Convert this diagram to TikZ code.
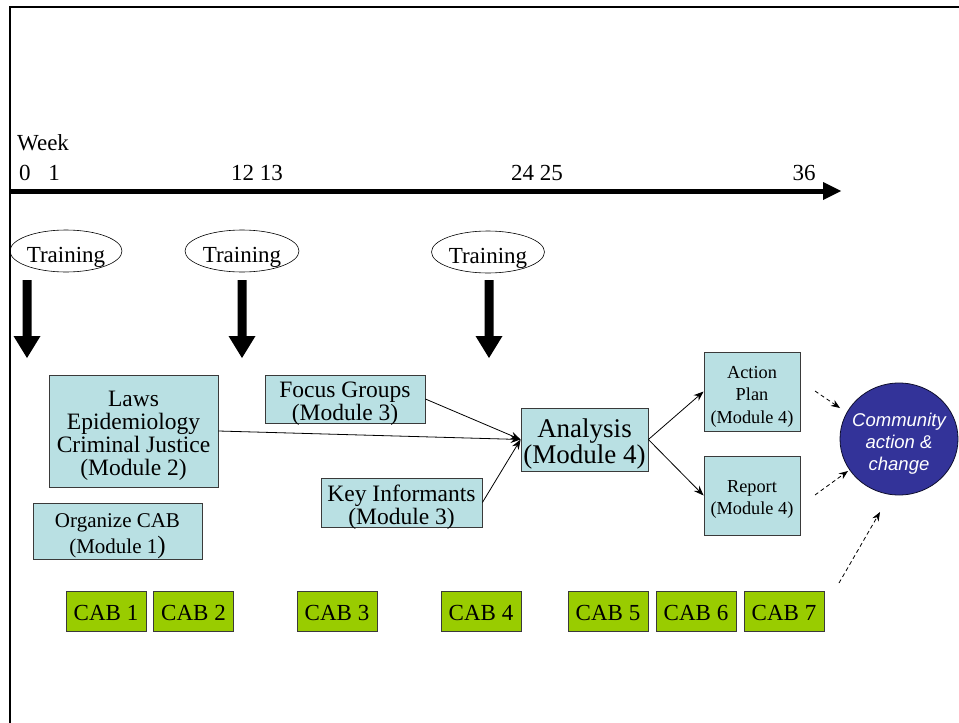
\documentclass[tikz,border=0pt]{standalone}
\usepackage{fontspec}
\setmainfont{Liberation Serif}
\setsansfont{Liberation Sans}
\usetikzlibrary{shapes.geometric,arrows.meta}
\definecolor{boxfill}{HTML}{B9E0E3}
\definecolor{boxline}{HTML}{3A3A3A}
\definecolor{cabgreen}{HTML}{99CC00}
\definecolor{commblue}{HTML}{333399}
\newcommand{\fs}[2]{\fontsize{#1}{#2}\selectfont}
\begin{document}
\begin{tikzpicture}[x=1pt,y=-1pt,
  modbox/.style={draw=boxline,fill=boxfill,line width=0.8pt,inner sep=0pt,anchor=center},
  boxtxt/.style={inner sep=0pt,align=center,anchor=center},
  cabbox/.style={draw=boxline,fill=cabgreen,line width=0.8pt,inner sep=0pt,minimum width=80pt,minimum height=40pt},
  trainell/.style={ellipse,draw,line width=0.6pt,inner sep=0pt,minimum width=112pt,minimum height=42pt},
  lbl/.style={inner sep=0pt,anchor=base,font=\fs{23}{23}},
  flow/.style={-{Stealth[length=10pt,width=7.5pt]},line width=0.8pt},
  dflow/.style={-{Stealth[length=9pt,width=7pt]},line width=0.8pt,dash pattern=on 4pt off 3pt}
]
\useasboundingbox (0,0) rectangle (959,723);
% frame
\draw[line width=2pt] (10,723) -- (10,7) -- (959,7);
% timeline
\coordinate (tl0) at (10,191);
\coordinate (tl1) at (823,191);
\coordinate (tl2) at (841,191);
\draw[line width=5pt] (tl0) -- (tl1);
\fill (823,182) -- (tl2) -- (823,200) -- cycle;
\node[lbl,anchor=base west] (week) at (17,150) {Week};
\node[lbl] (w0) at (25,180) {0};
\node[lbl] (w1) at (54,180) {1};
\node[lbl] (w12) at (257,180) {12 13};
\node[lbl] (w24) at (537,180) {24 25};
\node[lbl] (w36) at (804,180) {36};
% trainings
\node[trainell] (tr1) at (66,251) {};
\node[trainell,minimum width=114pt] (tr2) at (242,251) {};
\node[trainell,minimum width=113pt] (tr3) at (488,252) {};
\node[lbl] (tt1) at ([yshift=-11pt]tr1.center) {Training};
\node[lbl] (tt2) at ([yshift=-11pt]tr2.center) {Training};
\node[lbl] (tt3) at ([yshift=-11pt]tr3.center) {Training};
% thick down arrows
\foreach \cx in {27,242,489}{
  \fill (\cx-4.5,280) -- (\cx+4.5,280) -- (\cx+4.5,336) -- (\cx+13.5,336) -- (\cx,358) -- (\cx-13.5,336) -- (\cx-4.5,336) -- cycle;
}
% module boxes
\node[modbox,minimum width=169pt,minimum height=112pt] (laws) at (133.5,431) {};
\node[boxtxt,font=\fs{23.5}{23}] (lawst) at ([yshift=-4.5pt]laws.center) {Laws\\Epidemiology\\Criminal Justice\\(Module 2)};
\node[modbox,minimum width=160pt,minimum height=48pt] (focus) at (345,399) {};
\node[boxtxt,font=\fs{23.5}{23}] (focust) at ([yshift=-5pt]focus.center) {Focus Groups\\(Module 3)};
\node[modbox,minimum width=161pt,minimum height=49pt] (key) at (401.5,502.5) {};
\node[boxtxt,font=\fs{23.5}{23}] (keyt) at ([yshift=-5pt]key.center) {Key Informants\\(Module 3)};
\node[modbox,minimum width=169pt,minimum height=56pt] (org) at (117.5,531) {};
\node[boxtxt,font=\fs{21}{26}] (orgt) at ([yshift=-5pt]org.center) {Organize CAB\\(Module 1{\fs{25}{25})}};
\node[modbox,minimum width=127pt,minimum height=63pt] (ana) at (584.5,439.5) {};
\node[boxtxt,font=\fs{27}{25.5}] (anat) at ([yshift=-4.5pt]ana.center) {Analysis\\(Module 4)};
\node[modbox,minimum width=96pt,minimum height=79pt] (ap) at (752,391.5) {};
\node[boxtxt,font=\fs{18.3}{22.5}] (apt) at ([yshift=-5pt]ap.center) {Action\\Plan\\(Module 4)};
\node[modbox,minimum width=96pt,minimum height=79pt] (rep) at (752,495.5) {};
\node[boxtxt,font=\fs{18.3}{22}] (rept) at ([yshift=-4pt]rep.center) {Report\\(Module 4)};
% community
\node[ellipse,draw=black!70!commblue,fill=commblue,line width=0.8pt,inner sep=0pt,minimum width=118pt,minimum height=112pt] (comm) at (899,439) {};
\node[boxtxt,text=white,font=\sffamily\itshape\fs{18.5}{22}] (commt) at ([yshift=-5pt]comm.center) {Community\\action \&\\change};
% CAB boxes
\foreach \i/\cx in {1/106,2/193.5,3/337,4/481,5/608,6/696,7/784}{
  \node[cabbox] (c\i) at (\cx,611.5) {};
  \node[lbl] (ct\i) at ([yshift=-9pt]c\i.center) {CAB \i};
}
% flows
\draw[flow] (laws.east) -- (ana.west);
\draw[flow] (focus.east) -- (ana.west);
\draw[flow] (key.east) -- (ana.west);
\draw[flow] (ana.east) -- (ap.west);
\draw[flow] (ana.east) -- (rep.west);
% dashed
\coordinate (d1s) at (815,391);
\coordinate (d1e) at (840,408);
\coordinate (d2s) at (815,495);
\coordinate (d2e) at (848,471);
\coordinate (d3s) at (839,583);
\coordinate (d3e) at (880,512);
\draw[dflow] (d1s) -- (d1e);
\draw[dflow] (d2s) -- (d2e);
\draw[dflow] (d3s) -- (d3e);
\end{tikzpicture}
\end{document}
